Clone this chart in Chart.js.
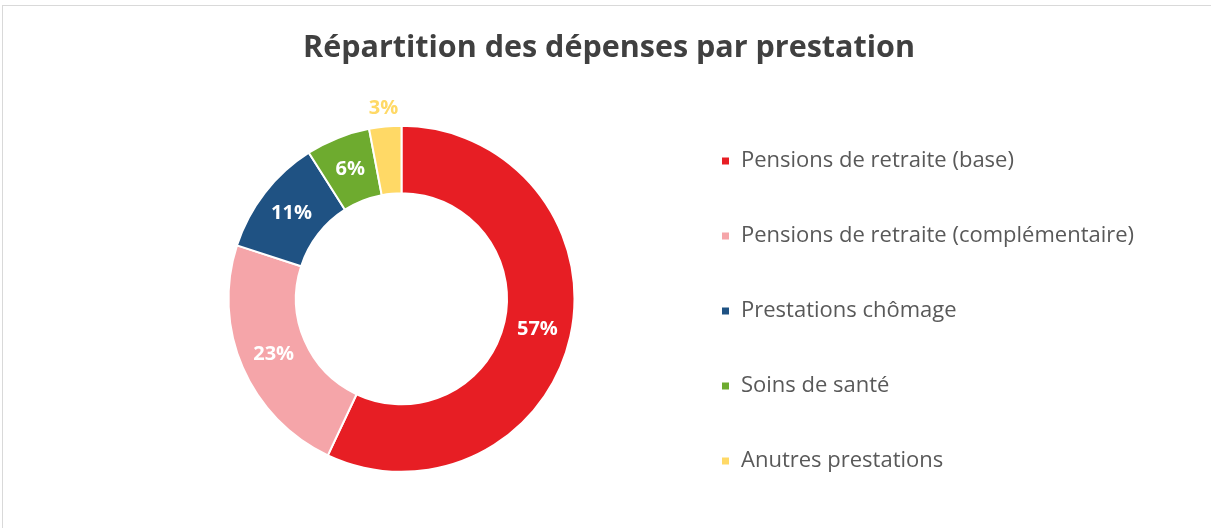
<!DOCTYPE html>
<html>
<head>
<meta charset="utf-8">
<script src="https://cdn.jsdelivr.net/npm/chart.js@4.4.0/dist/chart.umd.min.js"></script>
<style>
  html, body { margin: 0; padding: 0; background: #fff; overflow: hidden; }
  #wrap { position: relative; width: 1211px; height: 528px; }
  #frame { position: absolute; left: 2px; top: 5px; width: 1300px; height: 600px; border: 1px solid #d9d9d9; }
  canvas { position: absolute; left: 0; top: 0; }
</style>
</head>
<body>
<div id="wrap">
  <div id="frame"></div>
  <canvas id="chart" width="1211" height="528"></canvas>
</div>
<script>
// Chart data
const categories = [
  'Pensions de retraite (base)',
  'Pensions de retraite (complémentaire)',
  'Prestations chômage',
  'Soins de santé',
  'Anutres prestations'
];
const shares = [57, 23, 11, 6, 3];
const sliceColors = ['#E71E24', '#F5A5A9', '#1F5283', '#6EAB2F', '#FFD966'];
const labelColors = ['#ffffff', '#ffffff', '#ffffff', '#ffffff', '#FFD966'];
const outsideLabel = [false, false, false, false, true];

const FONT = '"Open Sans", sans-serif';

/**
 * Draw percentage labels on each slice (small ones outside the ring)
 */
const sliceLabels = {
  id: 'sliceLabels',
  afterDatasetsDraw(chart) {
    const { ctx } = chart;
    const meta = chart.getDatasetMeta(0);
    ctx.save();
    ctx.font = 'bold 20px ' + FONT;
    ctx.textAlign = 'center';
    ctx.textBaseline = 'middle';
    meta.data.forEach((arc, i) => {
      const { x, y, startAngle, endAngle, innerRadius, outerRadius } = arc.getProps(
        ['x', 'y', 'startAngle', 'endAngle', 'innerRadius', 'outerRadius'], true);
      const mid = (startAngle + endAngle) / 2;
      const r = outsideLabel[i] ? outerRadius + 18 : (innerRadius + outerRadius) / 2;
      ctx.fillStyle = labelColors[i];
      ctx.fillText(shares[i] + '%', x + Math.cos(mid) * r, y + Math.sin(mid) * r);
    });
    ctx.restore();
  }
};

/**
 * Let the legend run to the right edge so long labels are not clipped
 */
const widenLegend = {
  id: 'widenLegend',
  afterLayout(chart) {
    const lg = chart.legend;
    if (!lg) return;
    lg.right = chart.width;
    lg.width = lg.right - lg.left;
  }
};

new Chart(document.getElementById('chart'), {
  type: 'doughnut',
  data: {
    labels: categories,
    datasets: [{
      data: shares,
      backgroundColor: sliceColors,
      borderColor: '#ffffff',
      borderWidth: 2,
      radius: 173
    }]
  },
  options: {
    responsive: false,
    animation: false,
    cutout: '61%',
    layout: { padding: { left: 135, right: 128, top: 0, bottom: 3 } },
    plugins: {
      title: {
        display: true,
        text: 'Répartition des dépenses par prestation',
        color: '#404040',
        font: { family: FONT, size: 30.5, weight: 'bold' },
        padding: { top: 30, bottom: 6 }
      },
      legend: {
        position: 'right',
        align: 'end',
        maxWidth: 415,
        labels: {
          color: '#595959',
          font: { family: FONT, size: 22 },
          boxWidth: 9,
          boxHeight: 9,
          padding: 53
        }
      },
      tooltip: { enabled: false }
    }
  },
  plugins: [sliceLabels, widenLegend]
});
</script>
</body>
</html>
